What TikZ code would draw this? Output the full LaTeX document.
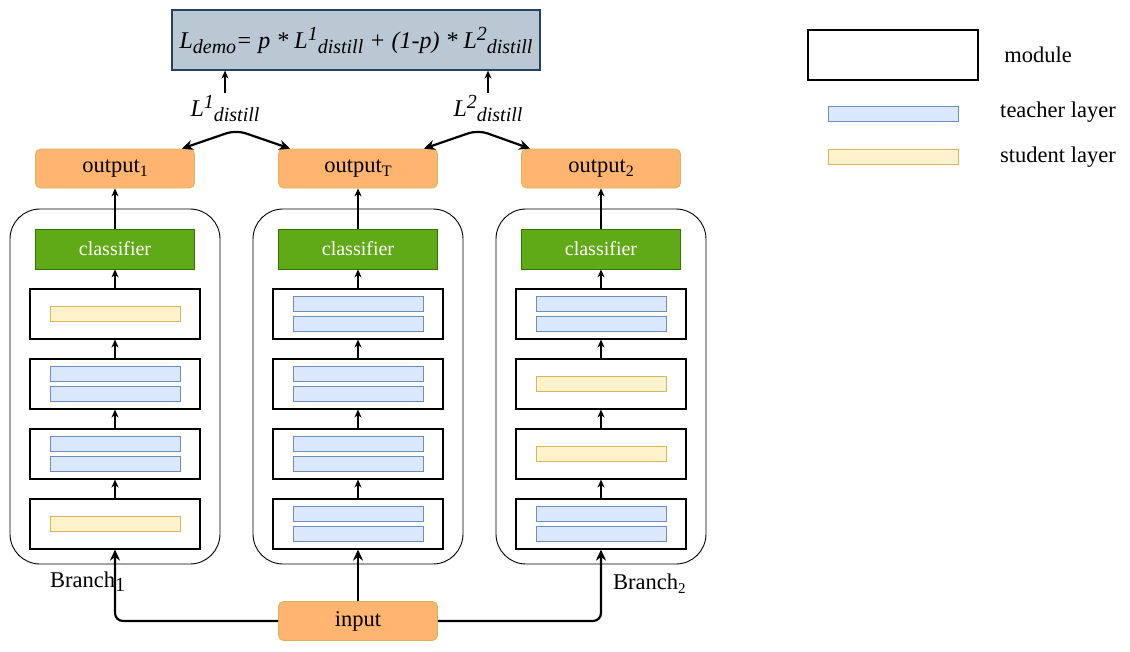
\documentclass[tikz,border=0pt]{standalone}
\usepackage{fontspec}
\setmainfont{Liberation Serif}
\usetikzlibrary{arrows.meta,calc}

\definecolor{outfill}{HTML}{FFB570}
\definecolor{outline}{HTML}{D6B656}
\definecolor{clsfill}{HTML}{60A917}
\definecolor{clsline}{HTML}{2D7600}
\definecolor{tfill}{HTML}{DAE8FC}
\definecolor{tline}{HTML}{6C8EBF}
\definecolor{sfill}{HTML}{FFF2CC}
\definecolor{sline}{HTML}{D6B656}
\definecolor{ffill}{HTML}{BAC8D3}
\definecolor{fline}{HTML}{23445D}

% raised / lowered small text for the loss formula
\newcommand\hiTxt[1]{\raisebox{8pt}{\fontsize{20}{24}\selectfont #1}}
\newcommand\loTxt[1]{\raisebox{-5pt}{\fontsize{20}{24}\selectfont #1}}
\newcommand\dnTxt[2]{\raisebox{-4pt}{\fontsize{#1}{#1}\selectfont #2}}

% one module box holding a student layer (S) or two teacher layers (T)
\newcommand\mymodule[4]{%
  \node[modbox] (#1) at (#2,#3) {};
  \ifx S#4
    \node[slayer] (#1-a) at (#2,#3) {};
  \else
    \node[tlayer] (#1-a) at (#2,#3-10) {};
    \node[tlayer] (#1-b) at (#2,#3+10) {};
  \fi}

\begin{document}
\begin{tikzpicture}[x=1pt,y=-1pt,
  txt/.style={font=\fontsize{22.5}{27}\selectfont},
  outbox/.style={txt, rounded corners=5pt, fill=outfill, draw=outline, line width=0.8pt,
    minimum width=159pt, minimum height=39pt, inner sep=0pt},
  clsbox/.style={font=\fontsize{20}{24}\selectfont, text=white, fill=clsfill, draw=clsline,
    line width=0.8pt, minimum width=159pt, minimum height=40pt, inner sep=0pt},
  modbox/.style={draw=black, line width=1.1pt, minimum width=170pt, minimum height=50pt, inner sep=0pt},
  branchbox/.style={draw=black, line width=0.9pt, rounded corners=30pt,
    minimum width=210pt, minimum height=355pt, inner sep=0pt},
  tlayer/.style={fill=tfill, draw=tline, line width=0.8pt, minimum width=130pt, minimum height=15pt, inner sep=0pt},
  slayer/.style={fill=sfill, draw=sline, line width=0.8pt, minimum width=130pt, minimum height=15pt, inner sep=0pt},
  formbox/.style={fill=ffill, draw=fline, line width=1.2pt, minimum width=368pt, minimum height=60pt, inner sep=0pt},
  thinarrow/.style={line width=1.1pt, -{Stealth[length=8pt,width=7pt,inset=2.5pt]}},
  thickarrow/.style={line width=2.2pt, -{Stealth[length=11pt,width=10pt,inset=3.5pt]}},
  dblarrow/.style={line width=2.2pt, {Stealth[length=11pt,width=10pt,inset=3.5pt]}-{Stealth[length=11pt,width=10pt,inset=3.5pt]}},
]
\useasboundingbox (0,0) rectangle (1130,651);

% loss formula
\node[formbox, font=\fontsize{24}{28}\selectfont\itshape] (f) at (356,40)
  {L\loTxt{demo}= p * L\hiTxt{1}\loTxt{distill} + (1-p) * L\hiTxt{2}\loTxt{distill}};

\node[font=\fontsize{24}{28}\selectfont\itshape, inner sep=2pt] (l1) at (225,108) {L\hiTxt{1}\loTxt{distill}};
\node[font=\fontsize{24}{28}\selectfont\itshape, inner sep=2pt] (l2) at (488,108) {L\hiTxt{2}\loTxt{distill}};
\draw[thinarrow] (l1.north) -- (l1.north |- f.south);
\draw[thinarrow] (l2.north) -- (l2.north |- f.south);

% the three branches
\node[branchbox] (b1) at (115,386.5) {};
\node[branchbox] (b2) at (358,386.5) {};
\node[branchbox] (b3) at (601,386.5) {};

\node[outbox] (o1) at (115,168.5) {output\dnTxt{16}{1}};
\node[outbox] (oT) at (358,168.5) {output\dnTxt{16}{T}};
\node[outbox] (o2) at (601,168.5) {output\dnTxt{16}{2}};

\node[clsbox] (c1) at (115,249) {classifier};
\node[clsbox] (c2) at (358,249) {classifier};
\node[clsbox] (c3) at (601,249) {classifier};

\mymodule{m11}{115}{314}{S}
\mymodule{m12}{115}{384}{T}
\mymodule{m13}{115}{454}{T}
\mymodule{m14}{115}{524}{S}

\mymodule{m21}{358}{314}{T}
\mymodule{m22}{358}{384}{T}
\mymodule{m23}{358}{454}{T}
\mymodule{m24}{358}{524}{T}

\mymodule{m31}{601}{314}{T}
\mymodule{m32}{601}{384}{S}
\mymodule{m33}{601}{454}{S}
\mymodule{m34}{601}{524}{T}

\foreach \b/\c/\o in {1/c1/o1, 2/c2/oT, 3/c3/o2}{
  \draw[thinarrow] (m\b4.north) -- (m\b3.south);
  \draw[thinarrow] (m\b3.north) -- (m\b2.south);
  \draw[thinarrow] (m\b2.north) -- (m\b1.south);
  \draw[thinarrow] (m\b1.north) -- (\c.south);
  \draw[thinarrow] (\c.north) -- (\o.south);
}

\node[txt, anchor=west, inner sep=0pt] (br1) at (50,582) {Branch\dnTxt{20}{1}};
\node[txt, anchor=west, inner sep=0pt] (br2) at (613,584) {Branch\dnTxt{15}{2}};

% shared input
\node[outbox] (in) at (358,621) {input};
\draw[thickarrow, rounded corners=8pt] (in.west) -| (m14.south);
\draw[thickarrow] (in.north) -- (m24.south);
\draw[thickarrow, rounded corners=8pt] (in.east) -| (m34.south);

% distillation links between outputs
\coordinate (p1) at (236,130);
\coordinate (p2) at (478,130);
\draw[dblarrow, rounded corners=10pt] ([xshift=-13pt]o1.north east) -- (p1) -- ([xshift=12pt]oT.north west);
\draw[dblarrow, rounded corners=10pt] ([xshift=-14pt]oT.north east) -- (p2) -- ([xshift=9pt]o2.north west);

% legend
\node[modbox, minimum width=170pt, minimum height=50pt] (lg1) at (893,55) {};
\node[tlayer] (lg2) at (893,113.5) {};
\node[slayer] (lg3) at (893,156.5) {};
\node[txt] (lt1) at (1038,55) {module};
\node[txt] (lt2) at (1058,112) {teacher layer};
\node[txt] (lt3) at (1058,157) {student layer};
\end{tikzpicture}
\end{document}
